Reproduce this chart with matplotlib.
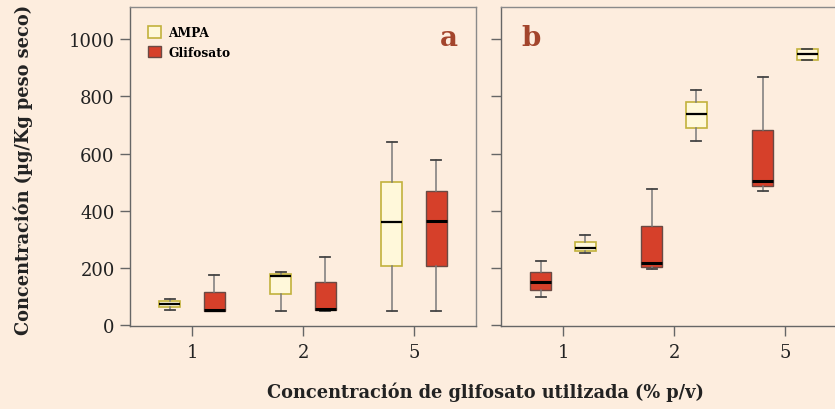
import matplotlib
matplotlib.use("Agg")
import matplotlib.pyplot as plt
from matplotlib.patches import Patch

# ---------------- data ----------------
categories = ['1', '2', '5']
y_ticks = [0, 200, 400, 600, 800, 1000]

# Panel a
a_ampa_lo = [55, 50, 50]
a_ampa_q1 = [65, 110, 207]
a_ampa_med = [75, 172, 360]
a_ampa_q3 = [85, 178, 500]
a_ampa_hi = [93, 188, 641]

a_gli_lo = [50, 50, 50]
a_gli_q1 = [52, 54, 208]
a_gli_med = [54, 56, 364]
a_gli_q3 = [116, 150, 471]
a_gli_hi = [176, 238, 578]

# Panel b
b_ampa_lo = [254, 643, 926]
b_ampa_q1 = [260, 691, 926]
b_ampa_med = [270, 739, 947]
b_ampa_q3 = [293, 781, 967]
b_ampa_hi = [315, 823, 967]

b_gli_lo = [100, 196, 471]
b_gli_q1 = [124, 205, 487]
b_gli_med = [151, 217, 505]
b_gli_q3 = [188, 346, 684]
b_gli_hi = [226, 478, 866]

# ---------------- style ----------------
BG = '#FDEDDE'
RED = '#D6402A'
CREAM = '#FFF8DA'
AMPA_EDGE = '#C2B23C'
SPINE = '#8A8A8A'
LETTER = '#A3452C'
FONT = 'DejaVu Serif'

plt.rcParams['font.family'] = [FONT, 'DejaVu Sans']

fig = plt.figure(figsize=(8.35, 4.1), dpi=100, facecolor=BG)
W = 0.4144
axa = fig.add_axes([0.1557, 0.2024, W, 0.778], facecolor=BG)
axb = fig.add_axes([0.600, 0.2024, W, 0.778], facecolor=BG)


def stats(lo, q1, med, q3, hi):
    return [dict(whislo=lo[i], q1=q1[i], med=med[i], q3=q3[i], whishi=hi[i], fliers=[])
            for i in range(len(lo))]


def draw(ax, st, pos, kind):
    if kind == 'ampa':
        boxprops = dict(facecolor=CREAM, edgecolor=AMPA_EDGE, linewidth=1.2)
        medprops = dict(color='black', linewidth=1.6)
    else:
        boxprops = dict(facecolor=RED, edgecolor='#6a4a44', linewidth=1.0)
        medprops = dict(color='black', linewidth=2.2)
    ax.bxp(st, positions=pos, widths=0.19, patch_artist=True, showfliers=False,
           boxprops=boxprops, medianprops=medprops,
           whiskerprops=dict(color='#7a7a7a', linewidth=1.1),
           capprops=dict(color='#444444', linewidth=1.3), capwidths=0.09,
           manage_ticks=False)


xs = [1, 2, 3]
draw(axa, stats(a_ampa_lo, a_ampa_q1, a_ampa_med, a_ampa_q3, a_ampa_hi), [x - 0.2 for x in xs], 'ampa')
draw(axa, stats(a_gli_lo, a_gli_q1, a_gli_med, a_gli_q3, a_gli_hi), [x + 0.2 for x in xs], 'gli')
draw(axb, stats(b_gli_lo, b_gli_q1, b_gli_med, b_gli_q3, b_gli_hi), [x - 0.2 for x in xs], 'gli')
draw(axb, stats(b_ampa_lo, b_ampa_q1, b_ampa_med, b_ampa_q3, b_ampa_hi), [x + 0.2 for x in xs], 'ampa')

for ax in (axa, axb):
    ax.set_xlim(0.44, 3.56)
    ax.set_ylim(-2, 1112)
    ax.set_xticks(xs)
    ax.set_xticklabels(categories, fontsize=13)
    ax.set_yticks(y_ticks)
    for s in ax.spines.values():
        s.set_color(SPINE)
        s.set_linewidth(1.0)
    ax.spines['left'].set_color('#666666')
    ax.spines['bottom'].set_color('#666666')
    ax.tick_params(axis='both', colors='#666666', length=7, width=1.0,
                   labelcolor='#222222')
    ax.tick_params(axis='x', pad=5)

axa.set_yticklabels([str(v) for v in y_ticks], fontsize=13)
axa.tick_params(axis='y', pad=4)
axb.set_yticklabels([])

axa.text(0.922, 0.906, 'a', transform=axa.transAxes, fontsize=20, fontweight='bold',
         color=LETTER, ha='center', va='center')
axb.text(0.087, 0.906, 'b', transform=axb.transAxes, fontsize=20, fontweight='bold',
         color=LETTER, ha='center', va='center')

handles = [Patch(facecolor=CREAM, edgecolor=AMPA_EDGE, linewidth=1.2, label='AMPA'),
           Patch(facecolor=RED, edgecolor='#6a4a44', linewidth=1.0, label='Glifosato')]
axa.legend(handles=handles, loc='upper left', bbox_to_anchor=(0.02, 0.975), frameon=False,
           prop=dict(family=FONT, weight='bold', size=8.8), handlelength=1.05,
           handleheight=1.05, handletextpad=0.6, labelspacing=0.55)

fig.text(0.028, 0.585, 'Concentración (µg/Kg peso seco)', rotation=90, ha='center',
         va='center', fontsize=12.8, fontweight='bold', color='#222222')
fig.text(0.581, 0.043, 'Concentración de glifosato utilizada (% p/v)', ha='center',
         va='center', fontsize=12.8, fontweight='bold', color='#222222')

fig.savefig('out.png', dpi=100, facecolor=BG)
